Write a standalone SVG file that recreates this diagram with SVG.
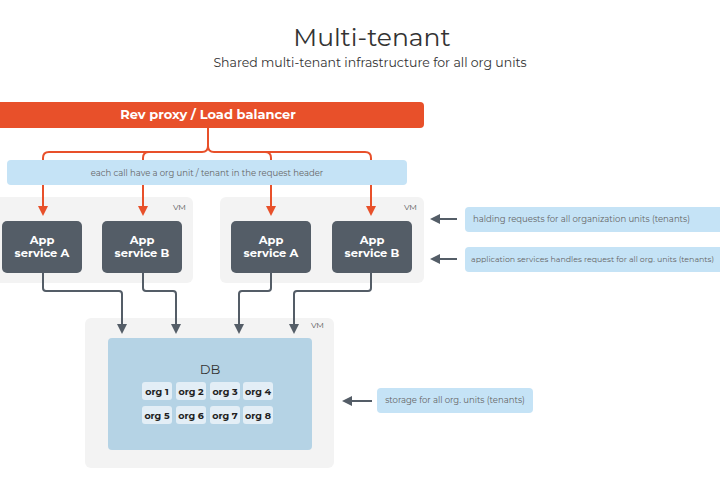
<svg xmlns="http://www.w3.org/2000/svg" width="720" height="500" viewBox="0 0 720 500">
<defs>
<marker id="ao" viewBox="0 0 10 10" refX="8" refY="5" markerWidth="5" markerHeight="5" orient="auto"><path d="M0,0L10,5L0,10z" fill="#e8502a"/></marker>
<marker id="ag" viewBox="0 0 10 10" refX="8" refY="5" markerWidth="5" markerHeight="5" orient="auto"><path d="M0,0L10,5L0,10z" fill="#545d67"/></marker>
<style>
text{font-family:Montserrat,"Noto Sans","Liberation Sans",sans-serif}
.vm{fill:#f3f3f3}
.vml{font-size:8px;fill:#555;text-anchor:end}
.app{fill:#545d67}
.at{font-size:11.5px;font-weight:bold;fill:#fff;text-anchor:middle}
.note{fill:#c5e3f6}
.nt{font-size:8.5px;fill:#666}
.org{fill:#e3eef6}
.ot{font-size:9.5px;font-weight:bold;fill:#222;text-anchor:middle}
.o{fill:none;stroke:#e8502a;stroke-width:2}
.g{fill:none;stroke:#545d67;stroke-width:2}
</style>
</defs>
<rect width="720" height="500" fill="#fff"/>
<text x="372" y="46" font-size="25" fill="#333" text-anchor="middle">Multi-tenant</text>
<text x="370" y="67" font-size="12.5" fill="#333" text-anchor="middle">Shared multi-tenant infrastructure for all org units</text>
<g id="vm1"><rect class="vm" x="-5" y="197" width="198" height="86" rx="6"/><text class="vml" x="186" y="210">VM</text></g>
<g id="vm2"><rect class="vm" x="220" y="197" width="204" height="86" rx="6"/><text class="vml" x="417" y="210">VM</text></g>
<g id="vm3"><rect class="vm" x="85" y="318" width="249" height="150" rx="6"/><text class="vml" x="324" y="328">VM</text></g>
<g id="connectors">
<path class="o" d="M208,128V146Q208,152 202,152H49Q43,152 43,158V214" marker-end="url(#ao)"/>
<path class="o" d="M143,158Q143,152 149,152"/>
<path class="o" d="M143,158V214" marker-end="url(#ao)"/>
<path class="o" d="M208,146Q208,152 214,152H365Q371,152 371,158V214" marker-end="url(#ao)"/>
<path class="o" d="M265,152Q271,152 271,158V214" marker-end="url(#ao)"/>
<path class="g" d="M43,273V288Q43,291 46,291H119Q122,291 122,294V332" marker-end="url(#ag)"/>
<path class="g" d="M143,273V288Q143,291 146,291H173Q176,291 176,294V332" marker-end="url(#ag)"/>
<path class="g" d="M271,273V288Q271,291 268,291H242Q239,291 239,294V332" marker-end="url(#ag)"/>
<path class="g" d="M371,273V288Q371,291 368,291H297Q294,291 294,294V332" marker-end="url(#ag)"/>
<path class="g" d="M457,219H432" marker-end="url(#ag)"/>
<path class="g" d="M457,259H432" marker-end="url(#ag)"/>
<path class="g" d="M372,401H344" marker-end="url(#ag)"/>
</g>
<g id="proxy"><rect x="-5" y="102" width="429" height="26" rx="4" fill="#e8502a"/><text x="208" y="119" font-size="13" font-weight="bold" fill="#fff" text-anchor="middle">Rev proxy / Load balancer</text></g>
<g id="header"><rect class="note" x="7" y="160" width="400" height="25" rx="4"/><text class="nt" x="207" y="176" text-anchor="middle">each call have a org unit / tenant in the request header</text></g>
<g id="appA1"><rect class="app" x="2" y="221" width="80" height="52" rx="5"/><text class="at" x="42" y="244">App</text><text class="at" x="42" y="257">service A</text></g>
<g id="appB1"><rect class="app" x="102" y="221" width="80" height="52" rx="5"/><text class="at" x="142" y="244">App</text><text class="at" x="142" y="257">service B</text></g>
<g id="appA2"><rect class="app" x="231" y="221" width="80" height="52" rx="5"/><text class="at" x="271" y="244">App</text><text class="at" x="271" y="257">service A</text></g>
<g id="appB2"><rect class="app" x="332" y="221" width="80" height="52" rx="5"/><text class="at" x="372" y="244">App</text><text class="at" x="372" y="257">service B</text></g>
<g id="db"><rect x="108" y="338" width="204" height="112" rx="4" fill="#b5d3e5"/><text x="210" y="374" font-size="13" fill="#333" text-anchor="middle">DB</text>
<rect class="org" x="142" y="382" width="30" height="18" rx="3"/><text class="ot" x="157" y="395">org 1</text>
<rect class="org" x="176" y="382" width="30" height="18" rx="3"/><text class="ot" x="191" y="395">org 2</text>
<rect class="org" x="210" y="382" width="30" height="18" rx="3"/><text class="ot" x="225" y="395">org 3</text>
<rect class="org" x="243" y="382" width="30" height="18" rx="3"/><text class="ot" x="258" y="395">org 4</text>
<rect class="org" x="142" y="406" width="30" height="18" rx="3"/><text class="ot" x="157" y="419">org 5</text>
<rect class="org" x="176" y="406" width="30" height="18" rx="3"/><text class="ot" x="191" y="419">org 6</text>
<rect class="org" x="210" y="406" width="30" height="18" rx="3"/><text class="ot" x="225" y="419">org 7</text>
<rect class="org" x="243" y="406" width="30" height="18" rx="3"/><text class="ot" x="258" y="419">org 8</text></g>
<g id="note1"><rect class="note" x="465" y="207" width="262" height="25" rx="4"/><text class="nt" x="473" y="222">halding requests for all organization units (tenants)</text></g>
<g id="note2"><rect class="note" x="465" y="247" width="262" height="25" rx="4"/><text class="nt" x="471" y="262" style="font-size:8px" textLength="243" lengthAdjust="spacingAndGlyphs">application services handles request for all org. units (tenants)</text></g>
<g id="note3"><rect class="note" x="377" y="388" width="156" height="25" rx="4"/><text class="nt" x="455" y="403" text-anchor="middle">storage for all org. units (tenants)</text></g>
</svg>
